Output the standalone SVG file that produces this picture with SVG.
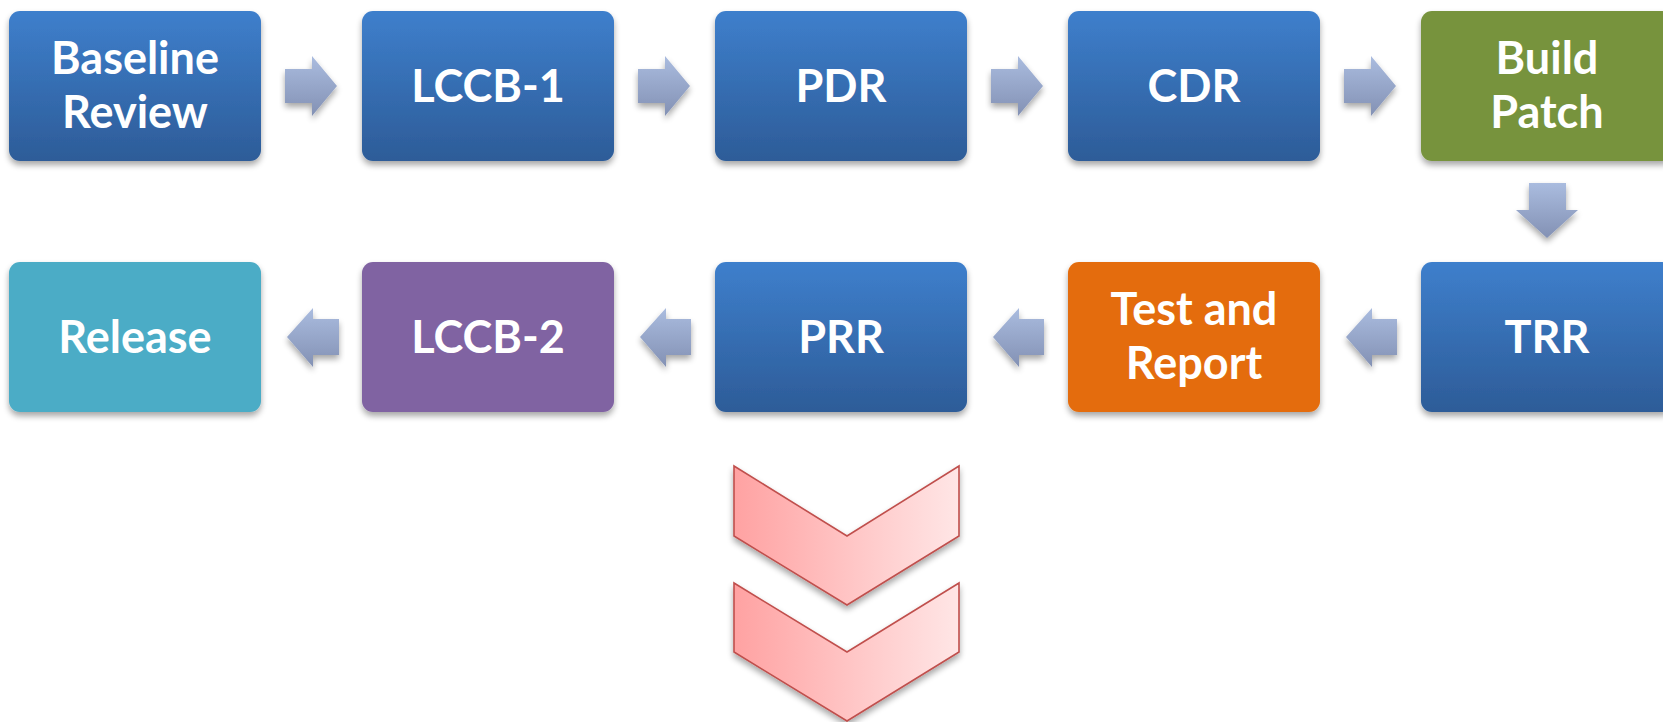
<svg xmlns="http://www.w3.org/2000/svg" width="1663" height="722" viewBox="0 0 1663 722">
<defs>
<linearGradient id="gBlue" x1="0" y1="0" x2="0" y2="1">
<stop offset="0" stop-color="#3E7FCC"/>
<stop offset="1" stop-color="#2D5C98"/>
</linearGradient>
<linearGradient id="gArrowH" x1="0" y1="0" x2="0" y2="1">
<stop offset="0" stop-color="#AABCDF"/>
<stop offset="1" stop-color="#8391B4"/>
</linearGradient>
<linearGradient id="gChev" x1="0" y1="0" x2="1" y2="0">
<stop offset="0" stop-color="#FFA2A2"/>
<stop offset="1" stop-color="#FFE6E6"/>
</linearGradient>
<filter id="sh" x="-10%" y="-10%" width="120%" height="130%">
<feGaussianBlur in="SourceAlpha" stdDeviation="3"/>
<feOffset dx="0" dy="4" result="b"/>
<feComponentTransfer><feFuncA type="linear" slope="0.35"/></feComponentTransfer>
<feMerge><feMergeNode/><feMergeNode in="SourceGraphic"/></feMerge>
</filter>
</defs>
<style>
.box{filter:url(#sh)}
.blue{fill:url(#gBlue)}
.green{fill:#77933C}
.orange{fill:#E46C0A}
.purple{fill:#8064A2}
.teal{fill:#4BACC6}
.lbl{font-family:Lato,"Open Sans","Liberation Sans",sans-serif;font-weight:bold;font-size:45px;fill:#FFFFFF;text-anchor:middle}
.arr{fill:url(#gArrowH);filter:url(#sh)}
.chev{fill:url(#gChev);stroke:#C0504D;stroke-width:1.6;filter:url(#sh)}
</style>
<rect width="1663" height="722" fill="#FFFFFF"/>

<g id="node-baseline">
<rect class="box blue" x="9" y="11" width="252" height="150" rx="11"/>
<text class="lbl" x="135" y="74">Baseline</text>
<text class="lbl" x="135" y="128">Review</text>
</g>
<g id="node-lccb1">
<rect class="box blue" x="362" y="11" width="252" height="150" rx="11"/>
<text class="lbl" x="488" y="102">LCCB-1</text>
</g>
<g id="node-pdr">
<rect class="box blue" x="715" y="11" width="252" height="150" rx="11"/>
<text class="lbl" x="841" y="102">PDR</text>
</g>
<g id="node-cdr">
<rect class="box blue" x="1068" y="11" width="252" height="150" rx="11"/>
<text class="lbl" x="1194" y="102">CDR</text>
</g>
<g id="node-build">
<rect class="box green" x="1421" y="11" width="252" height="150" rx="11"/>
<text class="lbl" x="1547" y="74">Build</text>
<text class="lbl" x="1547" y="128">Patch</text>
</g>
<g id="node-trr">
<rect class="box blue" x="1421" y="262" width="252" height="150" rx="11"/>
<text class="lbl" x="1547" y="353">TRR</text>
</g>
<g id="node-test">
<rect class="box orange" x="1068" y="262" width="252" height="150" rx="11"/>
<text class="lbl" x="1194" y="325">Test and</text>
<text class="lbl" x="1194" y="379">Report</text>
</g>
<g id="node-prr">
<rect class="box blue" x="715" y="262" width="252" height="150" rx="11"/>
<text class="lbl" x="841" y="353">PRR</text>
</g>
<g id="node-lccb2">
<rect class="box purple" x="362" y="262" width="252" height="150" rx="11"/>
<text class="lbl" x="488" y="353">LCCB-2</text>
</g>
<g id="node-release">
<rect class="box teal" x="9" y="262" width="252" height="150" rx="11"/>
<text class="lbl" x="135" y="353">Release</text>
</g>

<g id="connectors">
<path class="arr" d="M285,69 H312 V56 L337,86 L312,116 V103 H285 Z"/>
<path class="arr" d="M638,69 H665 V56 L690,86 L665,116 V103 H638 Z"/>
<path class="arr" d="M991,69 H1018 V56 L1043,86 L1018,116 V103 H991 Z"/>
<path class="arr" d="M1344,69 H1371 V56 L1396,86 L1371,116 V103 H1344 Z"/>
<path class="arr" d="M1529,183 H1566 V210 H1578 L1547,238 L1516,210 H1529 Z"/>
<path class="arr" d="M1397,319 H1372 V308 L1346,337 L1372,367 V355 H1397 Z"/>
<path class="arr" d="M1044,319 H1019 V308 L993,337 L1019,367 V355 H1044 Z"/>
<path class="arr" d="M691,319 H666 V308 L640,337 L666,367 V355 H691 Z"/>
<path class="arr" d="M339,319 H313 V308 L287,337 L313,367 V355 H339 Z"/>
</g>

<g id="chevrons">
<polygon class="chev" points="734,466 847,536 959,466 959,536 847,605 734,536"/>
<polygon class="chev" points="734,583 847,652 959,583 959,652 847,721 734,652"/>
</g>
</svg>
